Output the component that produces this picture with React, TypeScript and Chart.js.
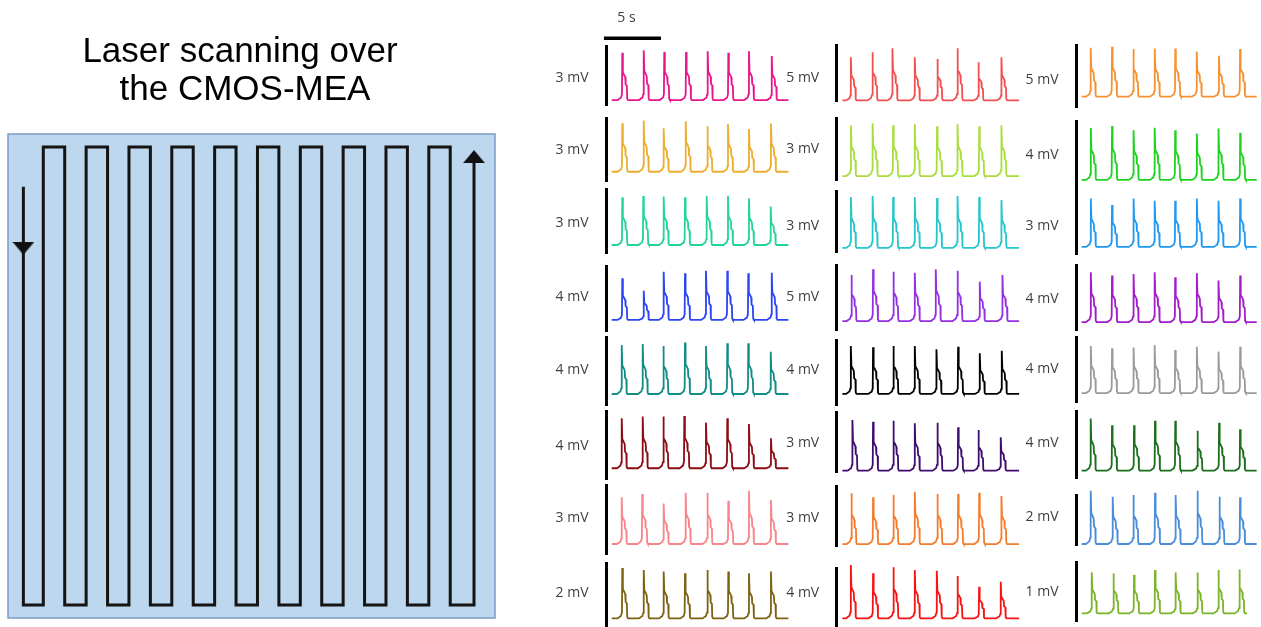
import React, { useEffect, useRef } from 'react';
import { Chart, registerables } from 'chart.js';

Chart.register(...registerables);

// ---------- Scan diagram ----------
const titleLines = ['Laser scanning over', 'the CMOS-MEA'];
// Lane positions of the serpentine scan across the array (lane units)
const scanLanes = [0.07, 1, 2, 3, 4, 5, 6, 7, 8, 9, 10, 11, 12, 13, 14, 15, 16, 17, 18, 19, 20, 21.11];
// Levels are fractions of the scanned height (0 = bottom turn, 1 = top turn)
const scanEntryLevel = 0.913;
const scanExitLevel = 0.989;
const arrowLevels = [0.779, 0.979];

// ---------- Recordings (24 electrodes, column by column, top to bottom) ----------
const scaleMV = [3, 3, 3, 4, 4, 4, 3, 2, 5, 3, 3, 5, 4, 3, 3, 4, 5, 4, 3, 4, 4, 4, 2, 1];

const baselineMV = [
  0.25, 0.47, 0.39, 0.68, 0.65, 0.64, 0.44, 0.27,
  0.05, 0.19, 0.2, 0.69, 0.68, 0.1, 0.13, 0.59,
  0.89, 0.48, 0.33, 0.49, 0.55, 0.46, 0.04, 0.14,
];

// beat times in seconds from the start of each recording
const beatTimes = [
  [0.93, 2.81, 4.61, 6.52, 8.42, 10.23, 12.04, 14.04],
  [0.93, 2.81, 4.56, 6.49, 8.39, 10.2, 12.04, 13.97],
  [0.93, 2.77, 4.56, 6.43, 8.33, 10.2, 12.04, 13.95],
  [0.93, 2.81, 4.56, 6.43, 8.27, 10.14, 11.98, 14.04],
  [0.88, 2.72, 4.53, 6.43, 8.27, 10.14, 11.98, 13.95],
  [0.88, 2.72, 4.53, 6.37, 8.27, 10.14, 12.04, 13.97],
  [0.88, 2.68, 4.56, 6.49, 8.39, 10.23, 12.04, 13.97],
  [0.93, 2.81, 4.56, 6.43, 8.39, 10.23, 12.04, 13.97],
  [0.74, 2.63, 4.39, 6.35, 8.33, 10.09, 11.93, 13.95],
  [0.75, 2.65, 4.45, 6.35, 8.3, 10.1, 12.0, 13.95],
  [0.75, 2.65, 4.45, 6.35, 8.3, 10.1, 12.0, 13.95],
  [0.79, 2.69, 4.47, 6.35, 8.19, 10.09, 12.05, 14.04],
  [0.74, 2.69, 4.47, 6.35, 8.25, 10.15, 12.05, 13.98],
  [0.88, 2.69, 4.47, 6.35, 8.33, 10.15, 11.93, 13.89],
  [0.79, 2.69, 4.47, 6.35, 8.33, 10.15, 12.0, 13.95],
  [0.74, 2.69, 4.47, 6.35, 8.28, 10.09, 11.99, 13.89],
  [0.79, 2.66, 4.53, 6.41, 8.21, 10.09, 12.04, 13.89],
  [0.8, 2.66, 4.55, 6.4, 8.2, 10.1, 12.0, 13.9],
  [0.8, 2.66, 4.55, 6.4, 8.2, 10.1, 12.0, 13.9],
  [0.8, 2.66, 4.55, 6.4, 8.2, 10.1, 12.0, 13.9],
  [0.8, 2.66, 4.55, 6.4, 8.2, 10.1, 12.0, 13.9],
  [0.79, 2.66, 4.59, 6.43, 8.21, 10.15, 12.05, 13.89],
  [0.79, 2.72, 4.53, 6.43, 8.24, 10.15, 12.08, 13.89],
  [0.88, 2.78, 4.59, 6.43, 8.24, 10.15, 11.99, 13.83],
];

// peak potential of each beat (mV, same reference as the scale bar)
const peakMV = [
  [2.66, 2.78, 2.7, 2.7, 2.73, 2.66, 2.73, 2.49],
  [2.77, 2.89, 2.53, 2.86, 2.62, 2.73, 2.49, 2.75],
  [2.63, 2.69, 2.66, 2.63, 2.69, 2.69, 2.58, 2.19],
  [3.24, 2.48, 3.65, 3.55, 3.71, 3.71, 3.55, 3.59],
  [3.55, 3.61, 3.49, 3.69, 3.49, 3.65, 3.65, 3.15],
  [3.61, 3.71, 3.71, 3.75, 3.35, 3.61, 3.27, 2.42],
  [2.49, 2.63, 2.22, 2.69, 2.69, 2.34, 2.78, 2.37],
  [1.85, 1.79, 1.74, 1.69, 1.79, 1.74, 1.69, 1.74],
  [3.95, 4.4, 4.77, 3.95, 3.8, 4.77, 3.5, 3.95],
  [2.65, 2.75, 2.65, 2.7, 2.6, 2.7, 2.6, 2.65],
  [2.7, 2.75, 2.7, 2.7, 2.65, 2.75, 2.7, 2.55],
  [4.23, 4.67, 4.48, 4.41, 4.67, 4.56, 3.72, 4.23],
  [3.63, 3.55, 3.63, 3.63, 3.43, 3.59, 3.18, 3.34],
  [2.64, 2.55, 2.6, 2.47, 2.5, 2.27, 2.14, 1.77],
  [2.64, 2.44, 2.56, 2.72, 2.61, 2.61, 2.67, 2.51],
  [4.2, 3.64, 4.05, 3.86, 3.82, 3.46, 2.73, 3.07],
  [4.84, 4.92, 4.73, 4.78, 4.78, 4.52, 4.19, 4.73],
  [3.58, 3.7, 3.45, 3.6, 3.45, 3.25, 3.55, 3.3],
  [2.6, 2.3, 2.6, 2.5, 2.5, 2.6, 2.5, 2.6],
  [3.55, 3.35, 3.45, 3.55, 3.25, 3.5, 3.05, 3.35],
  [3.45, 3.3, 3.35, 3.5, 3.2, 3.4, 3.1, 3.4],
  [3.59, 3.19, 3.19, 3.45, 3.45, 2.85, 3.33, 2.94],
  [2.17, 1.93, 2.0, 2.09, 2.0, 2.17, 1.93, 1.91],
  [0.83, 0.81, 0.79, 0.87, 0.83, 0.83, 0.87, 0.88],
];

// recording length (s)
const traceEnd = [
  15.5, 15.5, 15.5, 15.5, 15.5, 15.5, 15.5, 15.5,
  15.5, 15.5, 15.5, 15.5, 15.5, 15.5, 15.5, 15.5,
  15.35, 15.35, 15.35, 15.35, 15.35, 15.35, 15.35, 14.5,
];

// normalized action-potential profile: [time from upstroke (s), fraction of amplitude]
const beatProfile = [
  [-0.42, 0], [-0.12, 0.05], [-0.03, 0.12], [0, 1], [0.05, 0.58], [0.14, 0.54],
  [0.26, 0.48], [0.29, 0.33], [0.4, 0.3], [0.43, 0.03], [0.5, 0],
];

const timeBarSeconds = 5;
const timeBarStart = -0.68;

// ---------- Styles & layout ----------
const traceColors = [
  '#E8168A', '#EDAE30', '#22D39C', '#2B45F2', '#128C86', '#8B0C12', '#F7858A', '#7C6212',
  '#F25050', '#A8DE3C', '#24C6CC', '#9430E0', '#000000', '#3E0C6E', '#F47C2C', '#F51414',
  '#F5922F', '#1FD21F', '#1E98F0', '#A21DC8', '#9A9A9A', '#1B6E1B', '#4A8CD8', '#7AB42A',
];
const barX = [606, 836.7, 1076];
const barTop = [
  46, 118.3, 189.3, 266, 337.3, 411.7, 485.7, 563.3,
  45.7, 118, 191, 265, 340, 412.7, 486, 568,
  45.7, 121, 190, 265, 337, 411.7, 495, 562.3,
];
const barBottom = [
  105, 181.7, 253.3, 331, 405, 479, 554, 627,
  101, 180, 252, 330, 405, 472.7, 546.7, 627,
  107.7, 188, 254, 330, 402, 478.3, 545, 621.7,
];
const labelY = [
  77.7, 150, 223, 297, 370, 446, 518, 593,
  77.7, 149, 226, 297, 370, 443, 518, 593,
  80, 155, 226, 299, 369, 443, 517, 592,
];
const X_MIN = -0.5;
const X_MAX = 15.5;
const PX_PER_SEC = 11.4;
const CELL_LEFT_PAD = 70;
const CELL_WIDTH = 262;
const LABEL_FONT = '14px "Open Sans", "Noto Sans", sans-serif';
const LABEL_COLOR = '#3f3f3f';

function buildTrace(i: number) {
  const base = baselineMV[i];
  const pts: { x: number; y: number }[] = [{ x: 0, y: base }];
  beatTimes[i].forEach((t, j) => {
    const amp = peakMV[i][j] - base;
    beatProfile.forEach(([dt, f]) => pts.push({ x: t + dt, y: base + f * amp }));
  });
  pts.push({ x: traceEnd[i], y: base });
  return pts;
}

function buildScanPath() {
  const pts: { x: number; y: number }[] = [
    { x: scanLanes[0], y: scanEntryLevel },
    { x: scanLanes[0], y: 0 },
  ];
  let level = 0;
  for (let k = 1; k < scanLanes.length; k++) {
    pts.push({ x: scanLanes[k], y: level });
    if (k === scanLanes.length - 1) {
      pts.push({ x: scanLanes[k], y: scanExitLevel });
    } else {
      level = level === 0 ? 1 : 0;
      pts.push({ x: scanLanes[k], y: level });
    }
  }
  return pts;
}

function makeArrowHead(down: boolean) {
  const c = document.createElement('canvas');
  c.width = 22;
  c.height = 13;
  const g = c.getContext('2d')!;
  g.fillStyle = '#111';
  g.beginPath();
  if (down) {
    g.moveTo(0, 0); g.lineTo(22, 0); g.lineTo(11, 13);
  } else {
    g.moveTo(11, 0); g.lineTo(22, 13); g.lineTo(0, 13);
  }
  g.closePath();
  g.fill();
  return c;
}

function ScanPanel() {
  const ref = useRef<HTMLCanvasElement>(null);
  useEffect(() => {
    const panelPlugin = {
      id: 'scanPanel',
      beforeDatasetsDraw(chart: any) {
        const { ctx, chartArea: a } = chart;
        ctx.save();
        ctx.fillStyle = '#BDD7EE';
        ctx.fillRect(a.left, a.top, a.right - a.left, a.bottom - a.top);
        ctx.strokeStyle = '#7A9CC6';
        ctx.lineWidth = 1.5;
        ctx.strokeRect(a.left, a.top, a.right - a.left, a.bottom - a.top);
        ctx.restore();
      },
      afterDraw(chart: any) {
        const { ctx } = chart;
        ctx.save();
        ctx.fillStyle = '#000';
        ctx.font = '35px "Liberation Sans", Arial, sans-serif';
        ctx.textAlign = 'center';
        ctx.textBaseline = 'alphabetic';
        ctx.fillText(titleLines[0], 240, 62);
        ctx.fillText(titleLines[1], 245, 100);
        ctx.restore();
      },
    };
    const chart = new Chart(ref.current!, {
      type: 'scatter',
      data: {
        datasets: [
          {
            data: [
              { x: scanLanes[0], y: arrowLevels[0] },
              { x: scanLanes[scanLanes.length - 1], y: arrowLevels[1] },
            ],
            pointStyle: [makeArrowHead(true), makeArrowHead(false)] as any,
            pointRadius: 6,
            showLine: false,
          },
          {
            data: buildScanPath(),
            showLine: true,
            borderColor: '#141414',
            borderWidth: 3,
            borderJoinStyle: 'miter',
            borderCapStyle: 'butt',
            pointRadius: 0,
            tension: 0,
          },
        ],
      },
      options: {
        animation: false,
        responsive: false,
        events: [],
        layout: { padding: { left: 8, top: 134, right: 15, bottom: 9 } },
        scales: {
          x: { type: 'linear', display: false, min: -0.648, max: 22.09 },
          y: { type: 'linear', display: false, min: -0.0284, max: 1.0284 },
        },
        plugins: { legend: { display: false }, tooltip: { enabled: false } },
      },
      plugins: [panelPlugin],
    } as any);
    return () => chart.destroy();
  }, []);
  return (
    <canvas
      ref={ref}
      width={510}
      height={627}
      style={{ position: 'absolute', left: 0, top: 0, width: 510, height: 627 }}
    />
  );
}

function TraceCell({ index }: { index: number }) {
  const ref = useRef<HTMLCanvasElement>(null);
  const col = Math.floor(index / 8);
  const left = Math.round(barX[col] - CELL_LEFT_PAD);
  const top = index === 0 ? 0 : Math.floor(barTop[index]) - 22;
  const bottom = Math.ceil(barBottom[index]) + 12;
  const height = bottom - top;
  const padLeft = barX[col] - left;
  const plotWidth = (X_MAX - X_MIN) * PX_PER_SEC;
  const padRight = CELL_WIDTH - padLeft - plotWidth;
  const padTop = barTop[index] - top;
  const padBottom = height - padTop - (barBottom[index] - barTop[index]);

  useEffect(() => {
    const labelPlugin = {
      id: 'scaleLabel',
      afterDraw(chart: any) {
        const { ctx, chartArea } = chart;
        ctx.save();
        ctx.font = LABEL_FONT;
        ctx.fillStyle = LABEL_COLOR;
        ctx.textAlign = 'right';
        ctx.textBaseline = 'middle';
        ctx.fillText(`${scaleMV[index]} mV`, chartArea.left - 17.5, labelY[index] - top);
        if (index === 0) {
          const xs = chart.scales.x;
          const x0 = xs.getPixelForValue(timeBarStart);
          const x1 = xs.getPixelForValue(timeBarStart + timeBarSeconds);
          const y = chartArea.top - 7.7;
          ctx.strokeStyle = '#000';
          ctx.lineWidth = 3.5;
          ctx.beginPath();
          ctx.moveTo(x0, y);
          ctx.lineTo(x1, y);
          ctx.stroke();
          ctx.textAlign = 'center';
          ctx.fillText(`${timeBarSeconds} s`, x0 + 22.5, y - 20);
        }
        ctx.restore();
      },
    };
    const chart = new Chart(ref.current!, {
      type: 'scatter',
      data: {
        datasets: [
          {
            data: buildTrace(index),
            showLine: true,
            borderColor: traceColors[index],
            borderWidth: 1.8,
            pointRadius: 0,
            tension: 0,
            clip: false,
          },
        ],
      },
      options: {
        animation: false,
        responsive: false,
        events: [],
        layout: { padding: { left: padLeft, right: padRight, top: padTop, bottom: padBottom } },
        scales: {
          x: { type: 'linear', display: false, min: X_MIN, max: X_MAX },
          y: {
            type: 'linear',
            display: true,
            min: 0,
            max: scaleMV[index],
            ticks: { display: false },
            grid: { display: false, drawTicks: false },
            border: { display: true, color: '#000', width: 3 },
          },
        },
        plugins: { legend: { display: false }, tooltip: { enabled: false } },
      },
      plugins: [labelPlugin],
    } as any);
    return () => chart.destroy();
  }, []);

  return (
    <canvas
      ref={ref}
      width={CELL_WIDTH}
      height={height}
      style={{ position: 'absolute', left, top, width: CELL_WIDTH, height }}
    />
  );
}

export default function App() {
  return (
    <div
      style={{
        position: 'fixed',
        left: 0,
        top: 0,
        width: 1261,
        height: 627,
        overflow: 'hidden',
        background: '#fff',
      }}
    >
      <ScanPanel />
      {scaleMV.map((_, i) => (
        <TraceCell key={i} index={i} />
      ))}
    </div>
  );
}
